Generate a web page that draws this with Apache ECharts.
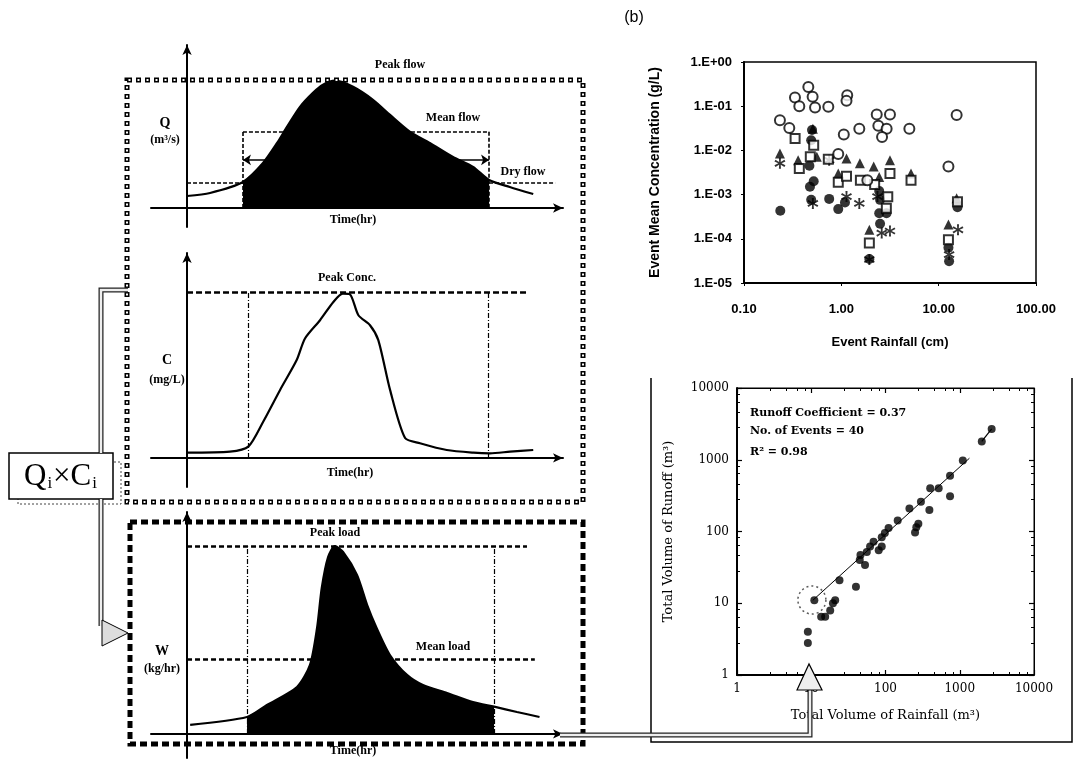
<!DOCTYPE html>
<html><head><meta charset="utf-8">
<script src="https://cdn.jsdelivr.net/npm/echarts@6/dist/echarts.min.js"></script>
<style>html,body{margin:0;padding:0;background:#fff}#c{width:1078px;height:759px}</style>
</head><body><div id="c"></div>
<script>
// ---------- data: hydrograph (Q), pollutograph (C), loadograph (W) ----------
const qTime = [0, 1.47, 3.57, 4.85, 5.75, 6.38, 7.21, 8.04, 8.68, 9.45, 10.6, 11.87, 12.96, 14.24, 15.5, 16.98, 18.26, 19.28, 20.6, 22.1];
const qFlow = [0.094, 0.118, 0.204, 0.353, 0.51, 0.636, 0.793, 0.903, 0.966, 0.998, 0.95, 0.848, 0.73, 0.597, 0.51, 0.40, 0.322, 0.22, 0.165, 0.11];
const qEvent = [3.57, 19.28];
const qMeanFlow = 0.597;
const qDryFlow = 0.196;
const qDryEnd = 23.5;
const qSpanLevel = 0.377;

const cTime = [0, 2.74, 3.91, 4.87, 5.94, 7.0, 7.53, 8.49, 9.34, 9.94, 10.4, 10.94, 11.68, 12.21, 12.96, 13.92, 14.87, 16.58, 18.28, 19.34, 20.62, 22.1];
const cConc = [0.032, 0.038, 0.068, 0.22, 0.41, 0.59, 0.72, 0.83, 0.94, 0.99, 0.986, 0.86, 0.80, 0.71, 0.41, 0.12, 0.089, 0.048, 0.032, 0.028, 0.038, 0.048];
const cEvent = [3.89, 19.2];
const cPeak = 1.0;
const cPeakEnd = 21.8;

const wTime = [0.2, 3.83, 5.1, 7.02, 7.85, 8.3, 8.6, 9.0, 9.44, 9.96, 10.85, 11.5, 12.1, 12.95, 14.04, 15.06, 16.6, 18.25, 19.6, 21.06, 22.5];
const wLoad = [0.048, 0.090, 0.154, 0.25, 0.367, 0.564, 0.777, 0.94, 1.0, 0.968, 0.846, 0.686, 0.564, 0.42, 0.314, 0.26, 0.218, 0.17, 0.145, 0.117, 0.090];
const wEvent = [3.83, 19.6];
const wPeak = 1.0;
const wPeakEnd = 21.7;
const wMean = 0.40;
const wMeanEnd = 22.2;

// ---------- data: (b) event mean concentration vs event rainfall ----------
const openCircleX = [0.234, 0.292, 0.334, 0.370, 0.458, 0.507, 0.537, 0.735, 1.15, 1.13, 1.06, 1.53, 2.31, 3.16, 2.40, 2.92, 2.62, 5.0, 12.6, 15.3, 0.93, 1.85];
const openCircleY = [0.048, 0.032, 0.157, 0.10, 0.273, 0.163, 0.093, 0.097, 0.177, 0.132, 0.023, 0.031, 0.065, 0.065, 0.036, 0.031, 0.020, 0.031, 0.0043, 0.063, 0.0083, 0.0021];
const filledCircleX = [0.236, 0.50, 0.49, 0.476, 0.52, 0.49, 0.75, 0.93, 1.09, 2.5, 2.45, 2.91, 2.5, 1.94, 12.8, 15.6, 12.6, 0.47, 2.45];
const filledCircleY = [4.3e-4, 0.029, 0.017, 0.0015, 0.0020, 7.6e-4, 8.0e-4, 4.7e-4, 6.6e-4, 7.6e-4, 3.8e-4, 3.8e-4, 2.2e-4, 3.5e-5, 3.1e-5, 5.2e-4, 6.3e-5, 0.0045, 0.0012];
const openSquareX = [0.335, 0.37, 0.52, 0.735, 0.93, 1.13, 1.57, 2.2, 3.16, 3.0, 2.9, 5.2, 1.94, 12.6, 15.6, 0.48];
const openSquareY = [0.0187, 0.0039, 0.013, 0.0063, 0.0019, 0.0026, 0.0021, 0.0017, 0.0030, 8.9e-4, 4.9e-4, 0.0021, 8.0e-5, 9.5e-5, 6.9e-4, 0.0072];
const triangleX = [0.234, 0.36, 0.56, 0.51, 1.13, 1.55, 2.15, 3.16, 5.2, 1.94, 12.6, 15.3, 0.93, 2.45];
const triangleY = [0.0085, 0.0060, 0.0072, 0.031, 0.0066, 0.0051, 0.0043, 0.0060, 0.0030, 1.6e-4, 2.1e-4, 8.3e-4, 0.0030, 0.0025];
const asteriskX = [0.234, 0.51, 0.75, 1.53, 1.94, 2.6, 3.16, 12.8, 15.8, 1.13, 2.35];
const asteriskY = [0.0051, 6.3e-4, 0.0060, 6.3e-4, 3.4e-5, 1.35e-4, 1.5e-4, 4.4e-5, 1.6e-4, 9e-4, 9e-4];

// ---------- data: runoff volume vs rainfall volume ----------
const rainVol = [2690, 1980, 1100, 740, 740, 520, 400, 390, 300, 210, 146, 110, 98, 89, 69, 81, 89, 62, 56, 46, 45, 53, 260, 277, 250, 24, 40, 21, 18, 13.6, 11, 9.0, 9.0, 19.6, 15.4];
const runoffVol = [2690, 1800, 980, 600, 310, 400, 400, 200, 260, 210, 142, 112, 95, 83, 72, 55, 62, 62, 52, 47, 40, 34, 115, 128, 97, 21, 17, 11, 7.9, 6.5, 11, 4.0, 2.8, 10, 6.5];
const fitRain = [10.5, 1350];
const fitRunoff = [11, 1050];
const tailRain = [1980, 2690];
const tailRunoff = [1800, 2690];
const outlierRain = [10.2];
const outlierRunoff = [11.1];
const runoffStats = ['Runoff Coefficient = 0.37', 'No. of Events = 40', 'R\u00B2 = 0.98'];

// ---------- helpers ----------
const pair = (xs, ys) => xs.map((x, i) => [x, ys[i]]);
const within = (xs, ys, r) => pair(xs, ys).filter(p => p[0] >= r[0] - 1e-9 && p[0] <= r[1] + 1e-9);
const seg = (x1, y1, x2, y2) => [{coord: [x1, y1]}, {coord: [x2, y2]}];

function asteriskPath() {
  const c = 5, R = 5, w = 0.9, r = 1.4, pts = [];
  for (let k = 0; k < 6; k++) {
    const a = k * Math.PI / 3 - Math.PI / 2, ai = a - Math.PI / 6;
    pts.push([c + r * Math.cos(ai), c + r * Math.sin(ai)]);
    const px = -Math.sin(a) * w, py = Math.cos(a) * w;
    pts.push([c + R * Math.cos(a) - px, c + R * Math.sin(a) - py]);
    pts.push([c + R * Math.cos(a) + px, c + R * Math.sin(a) + py]);
  }
  return 'path://M' + pts.map(p => p[0].toFixed(2) + ',' + p[1].toFixed(2)).join(' L') + ' Z';
}

const BLACK = '#000';
const lblFont = {fontFamily: 'Liberation Serif', fontWeight: 'bold', fontSize: 12, fill: BLACK};

function timeAxis(gi) {
  return {type: 'value', gridIndex: gi, min: -2.3, max: 24,
    axisLine: {onZero: true, lineStyle: {color: BLACK, width: 2}, symbol: ['none', 'arrow'], symbolSize: [7, 10]},
    axisTick: {show: false}, axisLabel: {show: false}, splitLine: {show: false}};
}
function levelAxis(gi, min, max) {
  return {type: 'value', gridIndex: gi, min: min, max: max,
    axisLine: {onZero: true, lineStyle: {color: BLACK, width: 2}, symbol: ['none', 'arrow'], symbolSize: [7, 10]},
    axisTick: {show: false}, axisLabel: {show: false}, splitLine: {show: false}};
}
function refLines(ai, data, lineStyle, symbol) {
  return {type: 'line', xAxisIndex: ai, yAxisIndex: ai, data: [], silent: true,
    markLine: {silent: true, animation: false, symbol: symbol || ['none', 'none'], symbolSize: 8,
      label: {show: false}, emphasis: {disabled: true},
      lineStyle: Object.assign({color: BLACK, width: 1.5, type: [4, 2]}, lineStyle || {}), data: data}};
}
function fillSeries(ai, xs, ys, range) {
  return {type: 'line', xAxisIndex: ai, yAxisIndex: ai, data: within(xs, ys, range), symbol: 'none', smooth: 0.25,
    silent: true, lineStyle: {width: 0}, areaStyle: {color: BLACK, opacity: 1}};
}
function curveSeries(ai, xs, ys) {
  return {type: 'line', xAxisIndex: ai, yAxisIndex: ai, data: pair(xs, ys), symbol: 'none', smooth: 0.25,
    silent: true, lineStyle: {color: BLACK, width: 2.2}};
}

const sansBold = {color: BLACK, fontFamily: 'Liberation Sans', fontWeight: 'bold'};
const serifTxt = {color: BLACK, fontFamily: 'DejaVu Serif'};

function logAxisC(gi, pos, labels, name) {
  return {type: 'log', logBase: 10, gridIndex: gi, min: 1, max: 10000, position: pos,
    axisLine: {show: true, onZero: false, lineStyle: {color: BLACK, width: labels ? 2 : 1}},
    axisTick: {show: true, inside: true, length: 5, lineStyle: {color: BLACK, width: 1.2}},
    minorTick: {show: true, splitNumber: 5, length: 3, lineStyle: {color: BLACK}},
    axisLabel: labels ? Object.assign({show: true, fontSize: 12, margin: 8, formatter: v => String(Math.round(v))}, serifTxt)
                      : {show: true, formatter: () => ''},
    splitLine: {show: false},
    name: name || '', nameLocation: 'middle', nameGap: pos === 'bottom' ? 34 : 62,
    nameTextStyle: Object.assign({fontSize: 13}, serifTxt)};
}

const option = {
  animation: false,
  backgroundColor: '#fff',
  grid: [
    {left: 151, top: 45, width: 412, height: 182},
    {left: 151, top: 253, width: 412, height: 234},
    {left: 151, top: 512, width: 412, height: 246},
    {left: 744, top: 62, width: 292, height: 221, show: true, borderColor: BLACK, borderWidth: 1.5, backgroundColor: 'transparent'},
    {left: 737, top: 388, width: 297, height: 287, show: true, borderColor: BLACK, borderWidth: 1, backgroundColor: 'transparent'}
  ],
  xAxis: [
    timeAxis(0), timeAxis(1), timeAxis(2),
    {type: 'log', logBase: 10, gridIndex: 3, min: 0.1, max: 100,
      axisLine: {lineStyle: {color: BLACK, width: 2}},
      axisTick: {show: true, length: 3, lineStyle: {color: BLACK}},
      axisLabel: Object.assign({fontSize: 13, margin: 20, formatter: v => v.toFixed(2)}, sansBold),
      splitLine: {show: false},
      name: 'Event Rainfall (cm)', nameLocation: 'middle', nameGap: 53,
      nameTextStyle: Object.assign({fontSize: 13}, sansBold)},
    logAxisC(4, 'bottom', true, 'Total Volume of Rainfall (m\u00B3)'),
    logAxisC(4, 'top', false)
  ],
  yAxis: [
    levelAxis(0, -0.149, 1.278), levelAxis(1, -0.175, 1.235), levelAxis(2, -0.128, 1.181),
    {type: 'log', logBase: 10, gridIndex: 3, min: 1e-5, max: 1,
      axisLine: {lineStyle: {color: BLACK, width: 2}},
      axisTick: {show: true, length: 3, lineStyle: {color: BLACK}},
      axisLabel: Object.assign({fontSize: 13, margin: 12, formatter: v => {
        const e = Math.round(Math.log10(v));
        return '1.E' + (e < 0 ? '-' : '+') + String(Math.abs(e)).padStart(2, '0');
      }}, sansBold),
      splitLine: {show: false},
      name: 'Event Mean Concentration (g/L)', nameLocation: 'middle', nameGap: 82,
      nameTextStyle: Object.assign({fontSize: 14}, sansBold)},
    logAxisC(4, 'left', true, 'Total Volume of Runoff (m\u00B3)'),
    logAxisC(4, 'right', false)
  ],
  series: [
    // ----- Q panel -----
    refLines(0, [
      seg(qEvent[0], 0, qEvent[0], qMeanFlow),
      seg(qEvent[0], qMeanFlow, qEvent[1], qMeanFlow),
      seg(qEvent[1], qMeanFlow, qEvent[1], 0),
      seg(0, qDryFlow, qEvent[0], qDryFlow),
      seg(qEvent[1], qDryFlow, qDryEnd, qDryFlow)
    ], {type: [4, 2], width: 1.6}),
    refLines(0, [seg(qEvent[0], qSpanLevel, qEvent[1], qSpanLevel)], {type: 'solid', width: 1.5}, ['arrow', 'arrow']),
    fillSeries(0, qTime, qFlow, qEvent),
    curveSeries(0, qTime, qFlow),
    // ----- C panel -----
    refLines(1, [seg(0, cPeak, cPeakEnd, cPeak)], {type: [6, 3], width: 2.5}),
    refLines(1, [seg(cEvent[0], 0, cEvent[0], cPeak), seg(cEvent[1], 0, cEvent[1], cPeak)], {type: [5, 2, 1, 2], width: 1.2}),
    curveSeries(1, cTime, cConc),
    // ----- W panel -----
    refLines(2, [seg(0, wPeak, wPeakEnd, wPeak), seg(0, wMean, wMeanEnd, wMean)], {type: [5, 3], width: 2.5}),
    refLines(2, [seg(wEvent[0], 0, wEvent[0], wPeak), seg(wEvent[1], 0, wEvent[1], wPeak)], {type: [5, 2, 1, 2], width: 1.2}),
    fillSeries(2, wTime, wLoad, wEvent),
    curveSeries(2, wTime, wLoad),
    // ----- (b) EMC scatter -----
    {type: 'scatter', xAxisIndex: 3, yAxisIndex: 3, data: pair(filledCircleX, filledCircleY), symbol: 'circle', symbolSize: 10,
      itemStyle: {color: BLACK}},
    {type: 'scatter', xAxisIndex: 3, yAxisIndex: 3, data: pair(triangleX, triangleY), symbol: 'triangle', symbolSize: 10,
      itemStyle: {color: BLACK}},
    {type: 'scatter', xAxisIndex: 3, yAxisIndex: 3, data: pair(asteriskX, asteriskY), symbol: asteriskPath(), symbolSize: 11,
      itemStyle: {color: BLACK}},
    {type: 'scatter', xAxisIndex: 3, yAxisIndex: 3, data: pair(openSquareX, openSquareY), symbol: 'rect', symbolSize: 9,
      itemStyle: {color: '#fff', borderColor: BLACK, borderWidth: 2}},
    {type: 'scatter', xAxisIndex: 3, yAxisIndex: 3, data: pair(openCircleX, openCircleY), symbol: 'circle', symbolSize: 10,
      itemStyle: {color: '#fff', borderColor: BLACK, borderWidth: 2}},
    // ----- runoff vs rainfall -----
    {type: 'line', xAxisIndex: 4, yAxisIndex: 4, data: pair(fitRain, fitRunoff), symbol: 'none',
      lineStyle: {color: BLACK, width: 1}},
    {type: 'line', xAxisIndex: 4, yAxisIndex: 4, data: pair(tailRain, tailRunoff), symbol: 'none',
      lineStyle: {color: BLACK, width: 1.2}},
    {type: 'scatter', xAxisIndex: 4, yAxisIndex: 4, data: pair(rainVol, runoffVol), symbol: 'circle', symbolSize: 8,
      itemStyle: {color: BLACK}},
    {type: 'scatter', xAxisIndex: 4, yAxisIndex: 4, data: pair(outlierRain, outlierRunoff), symbol: 'circle', symbolSize: 28,
      itemStyle: {color: 'transparent', borderColor: '#333', borderWidth: 1.5, borderType: [2, 3]}}
  ],
  graphic: [
    {type: 'rect', z: 100, silent: true, shape: {x: 127, y: 80, width: 456, height: 422},
      style: {fill: null, stroke: BLACK, lineWidth: 5, lineDash: [5, 4]}},
    {type: 'rect', z: 101, silent: true, shape: {x: 127, y: 80, width: 456, height: 422},
      style: {fill: null, stroke: '#fff', lineWidth: 2, lineDash: [2, 7], lineDashOffset: -1.5}},
    {type: 'rect', z: 100, silent: true, shape: {x: 130, y: 522, width: 453, height: 222},
      style: {fill: null, stroke: BLACK, lineWidth: 5, lineDash: [7, 4]}},
    {type: 'rect', z: 100, silent: true, shape: {x: 18, y: 462, width: 103, height: 42},
      style: {fill: null, stroke: '#444', lineWidth: 1, lineDash: [2, 2]}},
    {type: 'rect', z: 101, silent: true, shape: {x: 9, y: 453, width: 104, height: 46},
      style: {fill: '#fff', stroke: BLACK, lineWidth: 1.5}},
    {type: 'text', z: 102, silent: true, x: 61, y: 477,
      style: {text: '{m|Q}{s|i}{m|\u00D7C}{s|i}', align: 'center', verticalAlign: 'middle',
        textAlign: 'center', textVerticalAlign: 'middle',
        rich: {m: {fontFamily: 'Liberation Serif', fontSize: 31, fill: BLACK},
               s: {fontFamily: 'Liberation Serif', fontSize: 17, fill: BLACK, padding: [14, 1, 0, 1]}}}},
    {type: 'polyline', z: 100, silent: true, shape: {points: [[101, 453], [101, 290], [128, 290]]},
      style: {stroke: '#222', lineWidth: 5, fill: null}},
    {type: 'polyline', z: 101, silent: true, shape: {points: [[101, 453], [101, 290], [128, 290]]},
      style: {stroke: '#eee', lineWidth: 2.5, fill: null}},
    {type: 'polyline', z: 100, silent: true, shape: {points: [[101, 499], [101, 626]]},
      style: {stroke: '#222', lineWidth: 5, fill: null}},
    {type: 'polyline', z: 101, silent: true, shape: {points: [[101, 499], [101, 626]]},
      style: {stroke: '#eee', lineWidth: 2.5, fill: null}},
    {type: 'polygon', z: 102, silent: true, shape: {points: [[102, 620], [128, 633], [102, 646]]},
      style: {fill: '#ddd', stroke: BLACK, lineWidth: 1}},
    {type: 'polyline', z: 100, silent: true, shape: {points: [[560, 735], [810, 735], [810, 688]]},
      style: {stroke: '#222', lineWidth: 5, fill: null}},
    {type: 'polyline', z: 101, silent: true, shape: {points: [[560, 735], [810, 735], [810, 688]]},
      style: {stroke: '#eee', lineWidth: 2.5, fill: null}},
    {type: 'polygon', z: 102, silent: true, shape: {points: [[797, 690], [809, 664], [822, 690]]},
      style: {fill: '#eee', stroke: BLACK, lineWidth: 1.2}},
    {type: 'polyline', z: 50, silent: true, shape: {points: [[651, 378], [651, 742], [1072, 742], [1072, 378]]},
      style: {stroke: BLACK, lineWidth: 1.5, fill: null}},
    {type: 'text', z: 110, silent: true, x: 634, y: 18,
      style: {text: '(b)', fontFamily: 'Liberation Sans', fontSize: 16, fill: BLACK, align: 'center', verticalAlign: 'middle', textAlign: 'center', textVerticalAlign: 'middle'}},
    ...[
      ['Peak flow', 400, 65, 12], ['Q', 165, 123, 14], ['(m\u00B3/s)', 165, 140, 12], ['Mean flow', 453, 118, 12],
      ['Dry flow', 523, 172, 12], ['Time(hr)', 353, 220, 12],
      ['Peak Conc.', 347, 278, 12], ['C', 167, 360, 14], ['(mg/L)', 167, 380, 12], ['Time(hr)', 350, 473, 12],
      ['Peak load', 335, 533, 12], ['Mean load', 443, 647, 12], ['W', 162, 651, 14], ['(kg/hr)', 162, 669, 12],
      ['Time(hr)', 353, 751, 12]
    ].map(t => ({type: 'text', z: 110, silent: true, x: t[1], y: t[2],
      style: Object.assign({}, lblFont, {text: t[0], fontSize: t[3], align: 'center', verticalAlign: 'middle', textAlign: 'center', textVerticalAlign: 'middle'})})),
    ...runoffStats.map((s, i) => ({type: 'text', z: 110, silent: true, x: 750, y: [413, 431, 452][i],
      style: {text: s, fontFamily: 'DejaVu Serif', fontWeight: 'bold', fontSize: 11, fill: BLACK,
        align: 'left', verticalAlign: 'middle', textAlign: 'left', textVerticalAlign: 'middle'}}))
  ]
};

const chart = echarts.init(document.getElementById('c'), null, {renderer: 'canvas'});
chart.setOption(option);
</script></body></html>
